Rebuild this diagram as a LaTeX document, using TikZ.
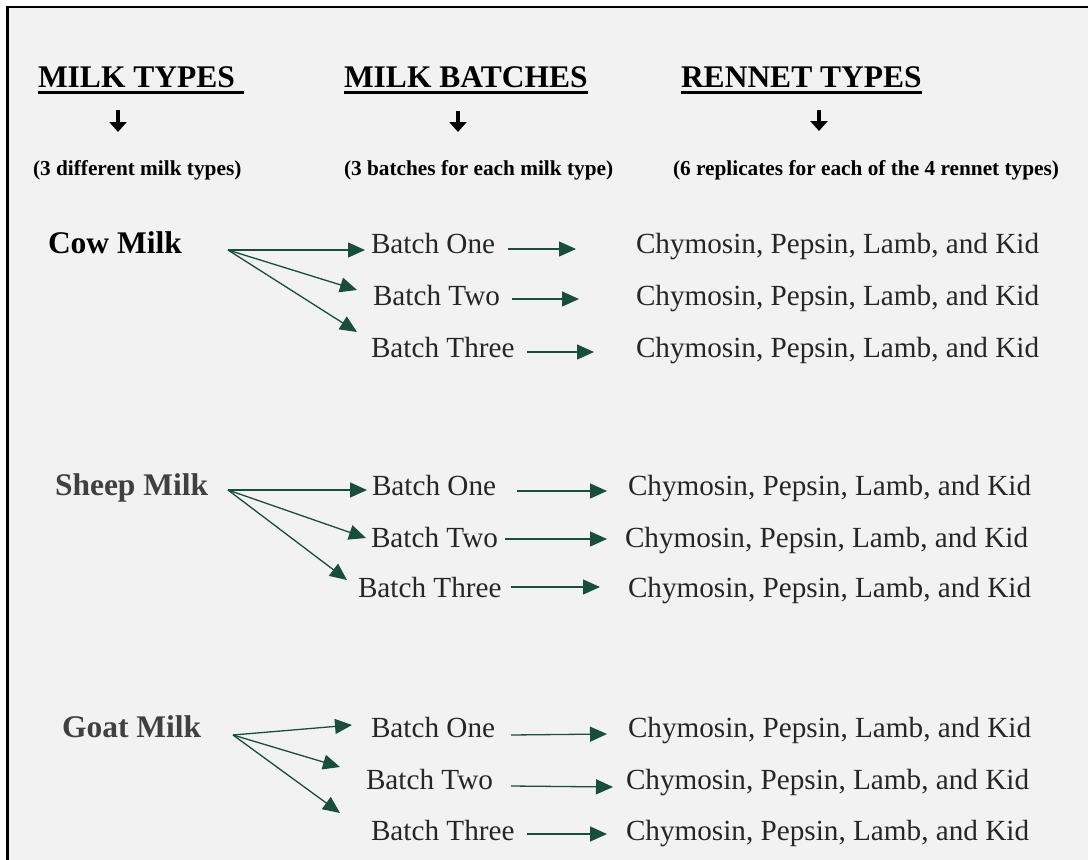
\documentclass[tikz,border=0pt]{standalone}
\usepackage{fontspec}
\setmainfont{Liberation Serif}
\usetikzlibrary{arrows.meta}
\definecolor{bg}{HTML}{F2F2F2}
\definecolor{flowgreen}{RGB}{24,78,58}
\definecolor{txt}{HTML}{262626}
\definecolor{milkgray}{HTML}{404040}
\tikzset{
  every node/.style={inner sep=0pt, outer sep=0pt, anchor=base west},
  hdr/.style={font=\bfseries\fontsize{31.5}{36}\selectfont, text=black},
  sub/.style={font=\bfseries\fontsize{21.3}{25}\selectfont, text=black},
  milk/.style={font=\bfseries\fontsize{31.5}{36}\selectfont},
  lbl/.style={font=\fontsize{29.2}{34}\selectfont, text=txt},
  uline/.style={line width=3pt, black},
  downarrow/.style={line width=4pt, black, -{Triangle[length=10pt,width=17pt]}},
  flow/.style={line width=1.3pt, flowgreen, -{Triangle[length=17pt,width=15pt]}}
}
\begin{document}
\begin{tikzpicture}[x=1pt,y=-1pt]
\useasboundingbox (0,0) rectangle (1088,860);
% background and frame
\fill[bg] (8,7) rectangle (1088,860);
\draw[line width=2.5pt] (7.7,860) -- (7.7,7) -- (1088,7);

% headers
\node[hdr] (h1) at (38,87) {MILK TYPES};
\node[hdr] (h2) at (344,87) {MILK BATCHES};
\node[hdr] (h3) at (681,87) {RENNET TYPES};
\draw[uline] ([yshift=-5pt]h1.base west) -- ([yshift=-5pt,xshift=9pt]h1.base east);
\draw[uline] ([yshift=-5pt]h2.base west) -- ([yshift=-5pt]h2.base east);
\draw[uline] ([yshift=-5pt]h3.base west) -- ([yshift=-5pt]h3.base east);

% down arrows
\coordinate (d1a) at (118,110); \coordinate (d1b) at (118,132);
\coordinate (d2a) at (458,111); \coordinate (d2b) at (458,132);
\coordinate (d3a) at (819,110); \coordinate (d3b) at (819,131);
\draw[downarrow] (d1a) -- (d1b);
\draw[downarrow] (d2a) -- (d2b);
\draw[downarrow] (d3a) -- (d3b);

% sub headers
\node[sub] (s1) at (33,175) {(3 different milk types)};
\node[sub] (s2) at (344,175) {(3 batches for each milk type)};
\node[sub] (s3) at (673,175) {(6 replicates for each of the 4 rennet types)};

% milk types
\node[milk, text=black] (cm) at (48,253) {Cow Milk};
\node[milk, text=milkgray] (sm) at (55,495) {Sheep Milk};
\node[milk, text=milkgray] (gm) at (62,737) {Goat Milk};

% batches
\node[lbl] (cb1) at (371,253) {Batch One};
\node[lbl] (cb2) at (373,305) {Batch Two};
\node[lbl] (cb3) at (371,357) {Batch Three};
\node[lbl] (sb1) at (372,495) {Batch One};
\node[lbl] (sb2) at (371,547) {Batch Two};
\node[lbl] (sb3) at (358,597) {Batch Three};
\node[lbl] (gb1) at (371,737) {Batch One};
\node[lbl] (gb2) at (366,789) {Batch Two};
\node[lbl] (gb3) at (371,840) {Batch Three};

% rennet types
\node[lbl] (cr1) at (636,253) {Chymosin, Pepsin, Lamb, and Kid};
\node[lbl] (cr2) at (636,305) {Chymosin, Pepsin, Lamb, and Kid};
\node[lbl] (cr3) at (636,357) {Chymosin, Pepsin, Lamb, and Kid};
\node[lbl] (sr1) at (628,495) {Chymosin, Pepsin, Lamb, and Kid};
\node[lbl] (sr2) at (625,547) {Chymosin, Pepsin, Lamb, and Kid};
\node[lbl] (sr3) at (628,597) {Chymosin, Pepsin, Lamb, and Kid};
\node[lbl] (gr1) at (628,737) {Chymosin, Pepsin, Lamb, and Kid};
\node[lbl] (gr2) at (626,789) {Chymosin, Pepsin, Lamb, and Kid};
\node[lbl] (gr3) at (626,840) {Chymosin, Pepsin, Lamb, and Kid};

% fork points and arrow ends
\coordinate (cf) at (228,250);
\coordinate (cf1) at (365,250); \coordinate (cf2) at (357,290); \coordinate (cf3) at (357,332);
\coordinate (sf) at (228,490);
\coordinate (sf1) at (367,490); \coordinate (sf2) at (366,538); \coordinate (sf3) at (347,580);
\coordinate (gf) at (233,735);
\coordinate (gf1) at (352,725); \coordinate (gf2) at (340,767); \coordinate (gf3) at (340,813);

\draw[flow] (cf) -- (cf1);
\draw[flow] (cf) -- (cf2);
\draw[flow] (cf) -- (cf3);
\draw[flow] (sf) -- (sf1);
\draw[flow] (sf) -- (sf2);
\draw[flow] (sf) -- (sf3);
\draw[flow] (gf) -- (gf1);
\draw[flow] (gf) -- (gf2);
\draw[flow] (gf) -- (gf3);

% batch -> rennet arrows
\coordinate (ca1) at (508,249); \coordinate (cz1) at (576,249);
\coordinate (ca2) at (512,299); \coordinate (cz2) at (579,299);
\coordinate (ca3) at (527,352); \coordinate (cz3) at (594,352);
\coordinate (sa1) at (517,491); \coordinate (sz1) at (607,491);
\coordinate (sa2) at (505,539); \coordinate (sz2) at (607,539);
\coordinate (sa3) at (511,587); \coordinate (sz3) at (600,587);
\coordinate (ga1) at (511,735); \coordinate (gz1) at (607,734);
\coordinate (ga2) at (511,786); \coordinate (gz2) at (613,787);
\coordinate (ga3) at (527,834); \coordinate (gz3) at (607,834);
\foreach \p in {c,s,g}{
  \foreach \i in {1,2,3}{
    \draw[flow] (\p a\i) -- (\p z\i);
  }
}
\end{tikzpicture}
\end{document}
